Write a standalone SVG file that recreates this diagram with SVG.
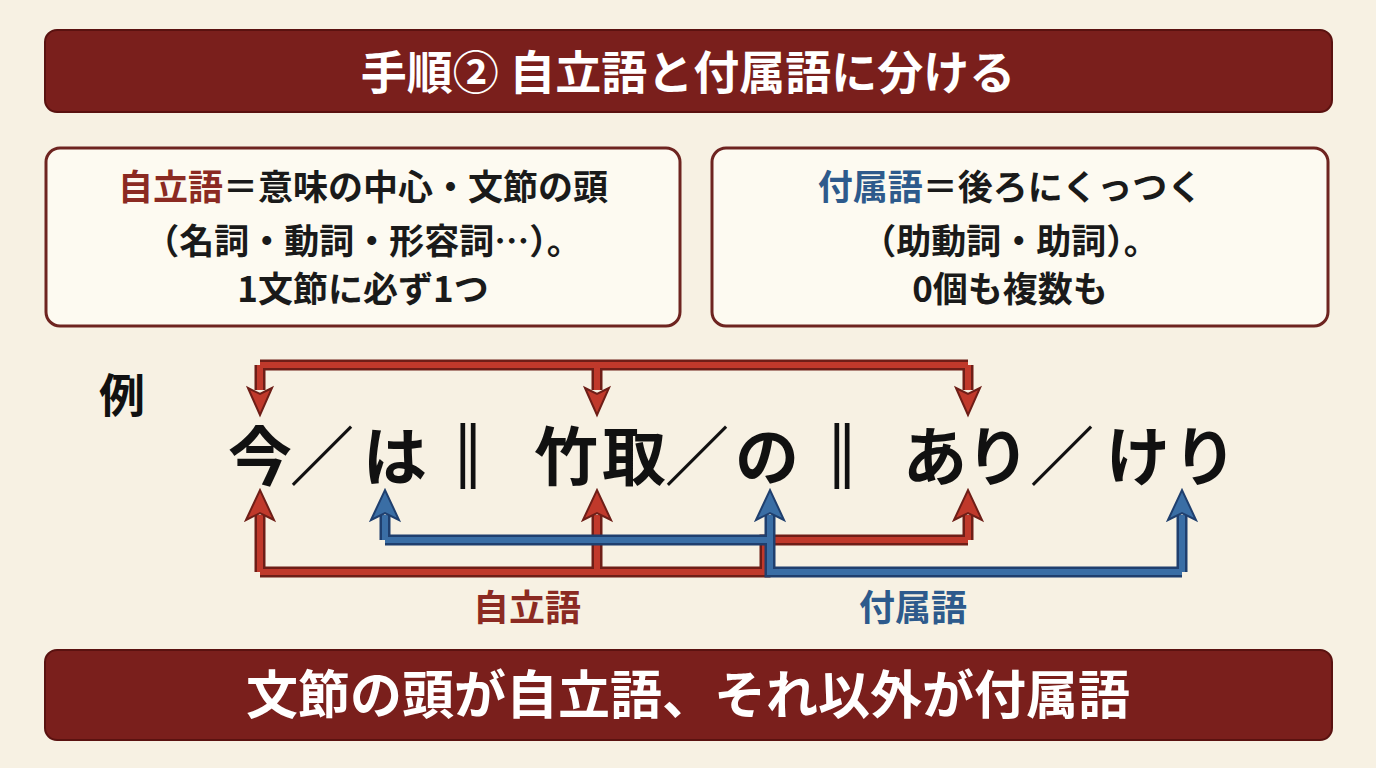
<svg xmlns="http://www.w3.org/2000/svg" width="1376" height="768" viewBox="0 0 1376 768">
<defs>
<style>
text{font-family:"Noto Sans CJK JP","Noto Sans",sans-serif;font-weight:bold;text-anchor:middle}
.ban{fill:#7a1f1c;stroke:#5a1210;stroke-width:2}
.box{fill:#fdfaf1;stroke:#6e2420;stroke-width:3}
.bt{font-size:35px;fill:#1a1a1a}
.ex{font-size:64px;fill:#111}
.ro{stroke:#6e1e17;stroke-width:11;fill:none}
.ri{stroke:#c0392b;stroke-width:6;fill:none}
.bo{stroke:#1f3f6e;stroke-width:11;fill:none}
.bi{stroke:#3a6ea5;stroke-width:6;fill:none}
</style>
</defs>
<rect width="1376" height="768" fill="#f7f1e3"/>
<g id="title"><rect class="ban" x="45" y="30" width="1287" height="82" rx="12"/><text x="688" y="89" font-size="46" fill="#fff">手順② 自立語と付属語に分ける</text></g>
<g id="box-jiritsu"><rect class="box" x="46" y="148" width="634" height="178" rx="14"/>
<text class="bt" x="363" y="200"><tspan fill="#8b2a22">自立語</tspan>＝意味の中心・文節の頭</text>
<text class="bt" x="363" y="254">（名詞・動詞・形容詞…）。</text>
<text class="bt" x="363" y="302">1文節に必ず1つ</text></g>
<g id="box-fuzoku"><rect class="box" x="712" y="148" width="616" height="178" rx="14"/>
<text class="bt" x="1010" y="200"><tspan fill="#2d5a8c">付属語</tspan>＝後ろにくっつく</text>
<text class="bt" x="1010" y="254">（助動詞・助詞）。</text>
<text class="bt" x="1010" y="302">0個も複数も</text></g>
<g id="rei"><text x="122" y="412" font-size="46" fill="#111">例</text></g>
<g id="sentence">
<text class="ex" x="260" y="480">今</text><text class="ex" x="322" y="480">／</text><text class="ex" x="395" y="480">は</text><text class="ex" x="468" y="480" stroke="#111" stroke-width="2">‖</text>
<text class="ex" x="566" y="480">竹</text><text class="ex" x="634" y="480">取</text><text class="ex" x="697" y="480">／</text><text class="ex" x="767" y="480">の</text><text class="ex" x="842" y="480" stroke="#111" stroke-width="2">‖</text>
<text class="ex" x="935" y="480">あ</text><text class="ex" x="998" y="480">り</text><text class="ex" x="1062" y="480">／</text><text class="ex" x="1138" y="480">け</text><text class="ex" x="1205" y="480">り</text>
</g>
<g id="connectors">
<path class="ro" d="M260,365 H968 M260,365 V390 M597,365 V390 M968,365 V390"/>
<path class="ri" d="M260,365 H968 M260,365 V390 M597,365 V390 M968,365 V390"/>
<path class="ro" d="M260,572 H765 V540 H968 M260,572 V515 M597,572 V515 M968,540 V515"/>
<path class="ri" d="M260,572 H765 V540 H968 M260,572 V515 M597,572 V515 M968,540 V515"/>
<path class="bo" d="M385,540 H770 V572 H1182 M385,540 V515 M770,540 V515 M1182,572 V515"/>
<path class="bi" d="M385,540 H770 V572 H1182 M385,540 V515 M770,540 V515 M1182,572 V515"/>
<g fill="#c0392b" stroke="#6e1e17" stroke-width="2">
<path d="M248,388 L260,415 L272,388 L260,394Z"/><path d="M585,388 L597,415 L609,388 L597,394Z"/><path d="M956,388 L968,415 L980,388 L968,394Z"/>
<path d="M246,520 L260,490 L274,520 L260,513Z"/><path d="M583,520 L597,490 L611,520 L597,513Z"/><path d="M954,520 L968,490 L982,520 L968,513Z"/>
</g>
<g fill="#3a6ea5" stroke="#1f3f6e" stroke-width="2">
<path d="M371,520 L385,490 L399,520 L385,513Z"/><path d="M756,520 L770,490 L784,520 L770,513Z"/><path d="M1168,520 L1182,490 L1196,520 L1182,513Z"/>
</g>
</g>
<g id="labels"><text x="527" y="621" font-size="36" fill="#8b2a22">自立語</text><text x="913" y="621" font-size="36" fill="#2d5a8c">付属語</text></g>
<g id="bottom"><rect class="ban" x="45" y="650" width="1287" height="90" rx="12"/><text x="688" y="714" font-size="52" fill="#fff">文節の頭が自立語、それ以外が付属語</text></g>
</svg>
